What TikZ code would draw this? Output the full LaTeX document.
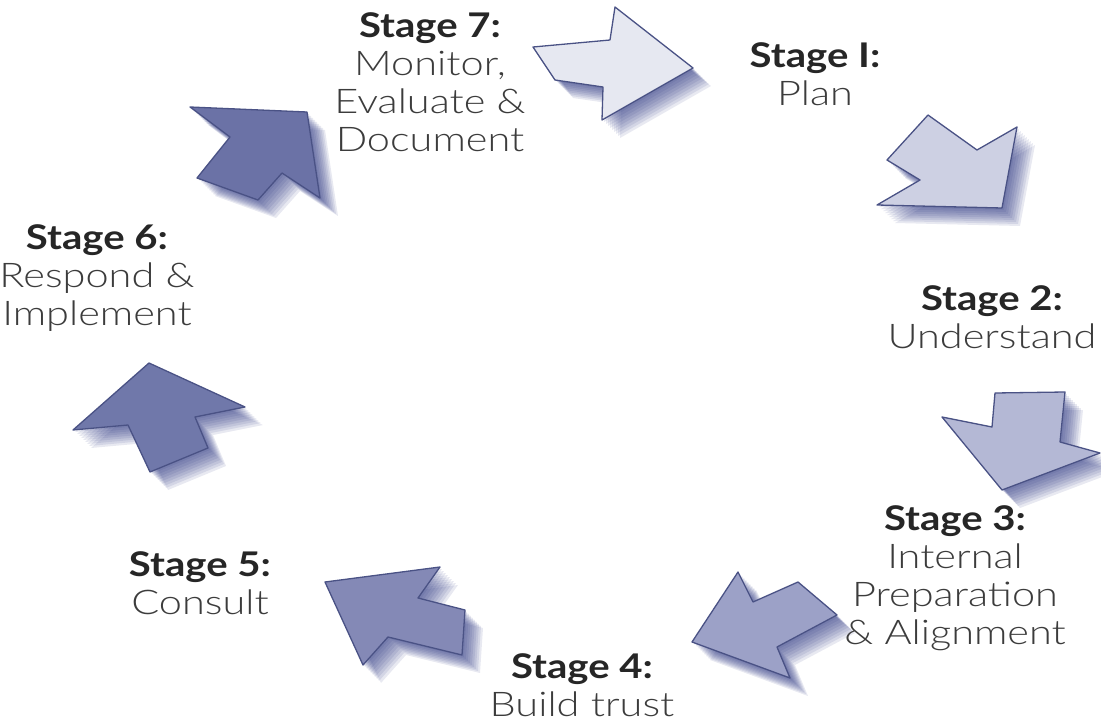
\documentclass[tikz,border=0pt]{standalone}
\usepackage{fontspec}
\setmainfont{Lato Light}[FakeStretch=1.22, BoldFont={Lato Bold}, BoldFeatures={FakeStretch=1.18}]
\usepackage{tikz}
\usetikzlibrary{calc}
\definecolor{edgeblue}{HTML}{4A5285}
\definecolor{shadowblue}{HTML}{2B3580}
\definecolor{fillA}{HTML}{E6E8F1}
\definecolor{fillB}{HTML}{CDD0E3}
\definecolor{fillC}{HTML}{B4B8D5}
\definecolor{fillD}{HTML}{9CA1C7}
\definecolor{fillE}{HTML}{8489B6}
\definecolor{fillF}{HTML}{7078AA}
\definecolor{fillG}{HTML}{6B72A6}
\definecolor{textgray}{HTML}{3C3C3C}
\definecolor{headgray}{HTML}{262626}
\tikzset{
  stagearrow/.style={draw=edgeblue, line width=1.3pt, line join=round},
  stagelabel/.style={align=center, text=textgray, font=\fontsize{34}{38}\selectfont, inner sep=0pt, anchor=north}
}
\newcommand{\stagehead}[1]{\textcolor{headgray}{\textbf{#1}}}
% one arrow: fill colour, outline path
\newcommand{\cyclearrow}[2]{%
  \foreach \s in {2,4,...,18}
    \fill[shadowblue, opacity=0.11, xshift=\s pt, yshift=-\s pt] #2 -- cycle;
  \filldraw[stagearrow, fill=#1] #2 -- cycle;}

\begin{document}
\begin{tikzpicture}[x=1pt,y=-1pt]
\useasboundingbox (0,0) rectangle (1101,722);
\begin{scope}
\clip (0,0) rectangle (1101,722);
% arrows, stage 7 -> 1 first, going round
\cyclearrow{fillA}{(533,47) -- (610,40) -- (615,7) -- (693,68) -- (602,120) -- (603,87) -- (555,80)}
\cyclearrow{fillB}{(928,115) -- (977,150) -- (1017,127) -- (1002,208) -- (877,205) -- (920,180) -- (887,160)}
\cyclearrow{fillC}{(995,393) -- (1065,392) -- (1060,442) -- (1100,453) -- (1002,490) -- (942,417) -- (992,427)}
\cyclearrow{fillD}{(738,572) -- (753,602) -- (798,582) -- (837,615) -- (777,647) -- (790,678) -- (692,642)}
\cyclearrow{fillE}{(325,582) -- (440,567) -- (418,598) -- (465,610) -- (462,655) -- (388,637) -- (363,665)}
\cyclearrow{fillF}{(149,363) -- (245,407) -- (195,417) -- (208,448) -- (150,472) -- (128,425) -- (73,430)}
\cyclearrow{fillG}{(190,107) -- (307,112) -- (320,198) -- (282,173) -- (258,200) -- (197,178) -- (230,137)}

% labels
\node[stagelabel] (st7) at (430,12) {\stagehead{Stage 7:}\\Monitor,\\Evaluate \&\\Document};
\node[stagelabel] (st1) at (815,42) {\stagehead{Stage I:}\\Plan};
\node[stagelabel] (st2) at (992,285) {\stagehead{Stage 2:}\\Understand};
\node[stagelabel] (st3) at (955,505) {\stagehead{Stage 3:}\\Internal\\Preparation\\\& Alignment};
\node[stagelabel] (st4) at (582,653) {\stagehead{Stage 4:}\\Build trust};
\node[stagelabel] (st5) at (200,551) {\stagehead{Stage 5:}\\Consult};
\node[stagelabel] (st6) at (97,224) {\stagehead{Stage 6:}\\Respond \&\\Implement};
\end{scope}
\end{tikzpicture}
\end{document}
